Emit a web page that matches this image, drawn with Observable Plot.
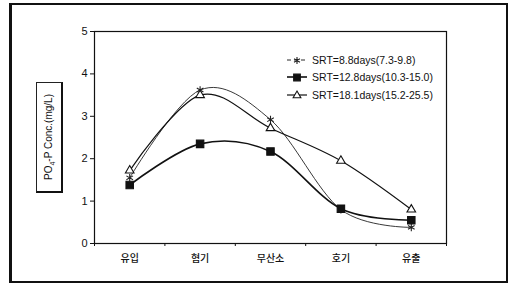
<!DOCTYPE html>
<html>
<head>
<meta charset="utf-8">
<script src="https://cdn.jsdelivr.net/npm/d3@7"></script>
<script src="https://cdn.jsdelivr.net/npm/@observablehq/plot@0.6"></script>
<style>
  body { margin: 0; background: #fff; }
  #wrap { position: relative; width: 509px; height: 285px; overflow: hidden; background: #fff; }
  #wrap svg.plot { position: absolute; left: 0; top: 0; }
  #border { position: absolute; left: 9px; top: 3px; width: 494px; height: 276px;
    border-top: 2px solid #111; border-right: 2px solid #111; border-bottom: 2px solid #111; border-left: 3px solid #111; }
  #ylab { position: absolute; left: 36px; top: 82px; width: 24px; height: 108px;
    border: 1px solid #222; border-right: 2px solid #111; border-bottom: 2px solid #111; background: #fff; }
  #ylab span { position: absolute; left: 50%; top: 50%; transform: translate(-50%, -50%) rotate(-90deg);
    white-space: nowrap; font: 10px "Liberation Sans", Arial, sans-serif; color: #111; }
  #legend { position: absolute; left: 286px; top: 51px; font: 10.5px "Liberation Sans", Arial, sans-serif; color: #111; }
  #legend .row { display: flex; align-items: center; height: 17.5px; }
  #legend svg { margin-right: 4px; }
</style>
</head>
<body>
<div id="wrap">
  <div id="border"></div>
</div>
<script>
// ---- data ----
const categories = ["유입", "혐기", "무산소", "호기", "유출"];
const seriesNames = ["SRT=8.8days(7.3-9.8)", "SRT=12.8days(10.3-15.0)", "SRT=18.1days(15.2-25.5)"];
const srt88 = [1.55, 3.62, 2.92, 0.80, 0.38];
const srt128 = [1.38, 2.35, 2.17, 0.82, 0.55];
const srt181 = [1.72, 3.50, 2.72, 1.95, 0.80];
const yTicks = [0, 1, 2, 3, 4, 5];

const seriesValues = [srt88, srt128, srt181];
const styles = [
  {symbol: "asterisk", fill: "none", stroke: "#222", sw: 0.9, r: 3.6},
  {symbol: "square", fill: "#111", stroke: "#111", sw: 1.6, r: 4.2},
  {symbol: "triangle", fill: "white", stroke: "#111", sw: 1.2, r: 3.2}
];
const rows = [];
seriesValues.forEach((vals, s) => vals.forEach((v, i) => rows.push({s, x: i + 0.5, cat: categories[i], v})));

const marks = [
  Plot.frame({stroke: "#111", strokeWidth: 1.2}),
  Plot.axisY({ticks: yTicks, tickSize: 4, tickPadding: 3, fontSize: 11, tickFormat: d3.format("d"), label: null}),
  Plot.axisX({ticks: d3.range(0, categories.length + 1), tickSize: 3, tickFormat: () => "", label: null}),
  Plot.axisX({ticks: categories.map((c, i) => i + 0.5), tickSize: 0, tickPadding: 11,
    tickFormat: d => categories[Math.round(d - 0.5)], fontSize: 10, fontWeight: 500,
    fontFamily: "'Noto Sans CJK KR', sans-serif", label: null})
];
styles.forEach((st, s) => {
  const d = rows.filter(r => r.s === s);
  marks.push(Plot.line(d, {x: "x", y: "v", curve: "cardinal", stroke: st.stroke, strokeWidth: st.sw}));
});
styles.forEach((st, s) => {
  const d = rows.filter(r => r.s === s);
  marks.push(Plot.dot(d, {x: "x", y: "v", symbol: () => st.symbol, r: st.r, fill: st.fill, stroke: st.stroke, strokeWidth: 1.1}));
});

const chart = Plot.plot({
  width: 509, height: 285,
  marginLeft: 94, marginRight: 63, marginTop: 31, marginBottom: 42,
  x: {domain: [0, categories.length], axis: null},
  y: {domain: [0, 5], axis: null},
  style: {fontFamily: "'Liberation Sans', Arial, sans-serif", color: "#111", background: "transparent"},
  marks
});
chart.classList.add("plot");
const wrap = document.getElementById("wrap");
wrap.appendChild(chart);

// y label box
const yl = document.createElement("div");
yl.id = "ylab";
yl.innerHTML = "<span>PO<sub style='font-size:7px'>4</sub>-P Conc.(mg/L)</span>";
wrap.appendChild(yl);

// legend
const lg = document.createElement("div");
lg.id = "legend";
styles.forEach((st, s) => {
  const row = document.createElement("div");
  row.className = "row";
  const type = st.symbol === "asterisk" ? d3.symbolAsterisk : st.symbol === "square" ? d3.symbolSquare : d3.symbolTriangle;
  const sym = d3.symbol(type, Math.PI * st.r * st.r * 0.8)();
  row.innerHTML = `<svg width="22" height="12"><line x1="1" x2="21" y1="6" y2="6" stroke="#111" stroke-width="${st.sw}" ${s === 0 ? 'stroke-dasharray="4,3"' : ''}/><path transform="translate(11,6.5)" d="${sym}" fill="${st.fill}" stroke="${st.stroke}" stroke-width="1.1"/></svg><span>${seriesNames[s]}</span>`;
  lg.appendChild(row);
});
wrap.appendChild(lg);
</script>
</body>
</html>
